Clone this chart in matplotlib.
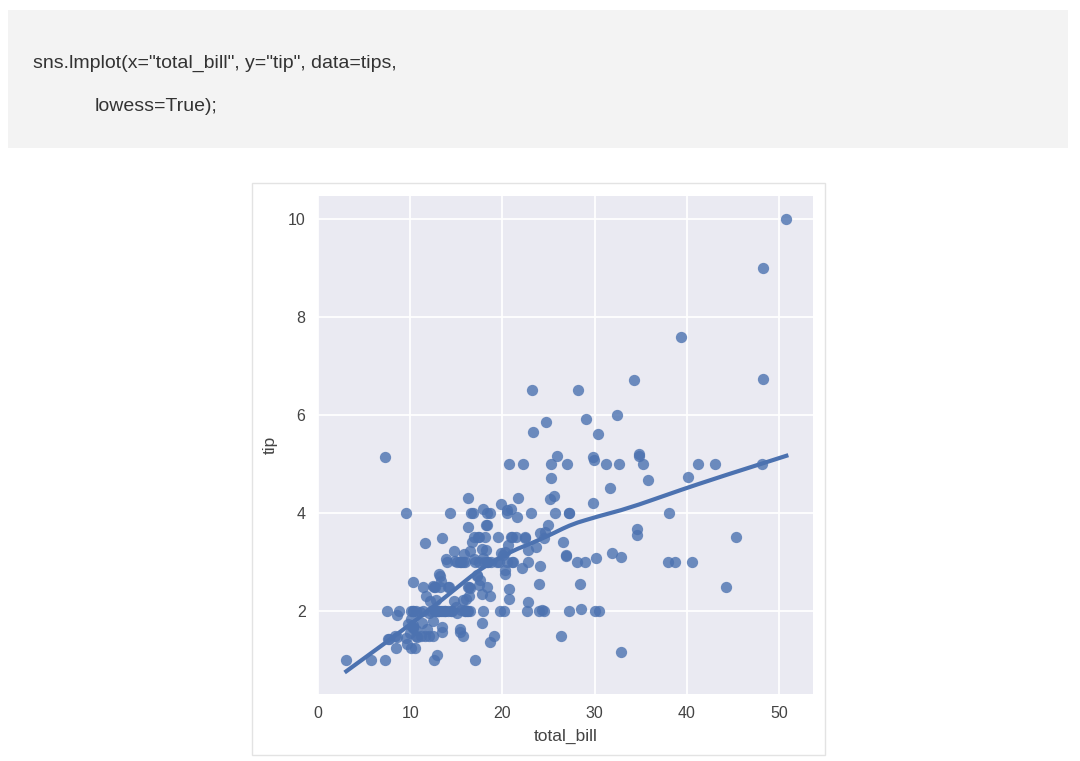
import numpy as np
import matplotlib
matplotlib.use("Agg")
import matplotlib.pyplot as plt
from matplotlib.patches import Rectangle

# tips dataset
total_bill = [16.99, 10.34, 21.01, 23.68, 24.59, 25.29, 8.77, 26.88, 15.04, 14.78,
              10.27, 35.26, 15.42, 18.43, 14.83, 21.58, 10.33, 16.29, 16.97, 20.65,
              17.92, 20.29, 15.77, 39.42, 19.82, 17.81, 13.37, 12.69, 21.70, 19.65,
              9.55, 18.35, 15.06, 20.69, 17.78, 24.06, 16.31, 16.93, 18.69, 31.27,
              16.04, 17.46, 13.94, 9.68, 30.40, 18.29, 22.23, 32.40, 28.55, 18.04,
              12.54, 10.29, 34.81, 9.94, 25.56, 19.49, 38.01, 26.41, 11.24, 48.27,
              20.29, 13.81, 11.02, 18.29, 17.59, 20.08, 16.45, 3.07, 20.23, 15.01,
              12.02, 17.07, 26.86, 25.28, 14.73, 10.51, 17.92, 27.20, 22.76, 17.29,
              19.44, 16.66, 10.07, 32.68, 15.98, 34.83, 13.03, 18.28, 24.71, 21.16,
              28.97, 22.49, 5.75, 16.32, 22.75, 40.17, 27.28, 12.03, 21.01, 12.46,
              11.35, 15.38, 44.30, 22.42, 20.92, 15.36, 20.49, 25.21, 18.24, 14.31,
              14.00, 7.25, 38.07, 23.95, 25.71, 17.31, 29.93, 10.65, 12.43, 24.08,
              11.69, 13.42, 14.26, 15.95, 12.48, 29.80, 8.52, 14.52, 11.38, 22.82,
              19.08, 20.27, 11.17, 12.26, 18.26, 8.51, 10.33, 14.15, 16.00, 13.16,
              17.47, 34.30, 41.19, 27.05, 16.43, 8.35, 18.64, 11.87, 9.78, 7.51,
              14.07, 13.13, 17.26, 24.55, 19.77, 29.85, 48.17, 25.00, 13.39, 16.49,
              21.50, 12.66, 16.21, 13.81, 17.51, 24.52, 20.76, 31.71, 10.59, 10.63,
              50.81, 15.81, 7.25, 31.85, 16.82, 32.90, 17.89, 14.48, 9.60, 34.63,
              34.65, 23.33, 45.35, 23.17, 40.55, 20.69, 20.90, 30.46, 18.15, 23.10,
              15.69, 19.81, 28.44, 15.48, 16.58, 7.56, 10.34, 43.11, 13.00, 13.51,
              18.71, 12.74, 13.00, 16.40, 20.53, 16.47, 26.59, 38.73, 24.27, 12.76,
              30.06, 25.89, 48.33, 13.27, 28.17, 12.90, 28.15, 11.59, 7.74, 30.14,
              12.16, 13.42, 8.58, 15.98, 13.42, 16.27, 10.09, 20.45, 13.28, 22.12,
              24.01, 15.69, 11.61, 10.77, 15.53, 10.07, 12.60, 32.83, 35.83, 29.03,
              27.18, 22.67, 17.82, 18.78]
tip = [1.01, 1.66, 3.50, 3.31, 3.61, 4.71, 2.00, 3.12, 1.96, 3.23,
       1.71, 5.00, 1.57, 3.00, 3.02, 3.92, 1.67, 3.71, 3.50, 3.35,
       4.08, 2.75, 2.23, 7.58, 3.18, 2.34, 2.00, 2.00, 4.30, 3.00,
       1.45, 2.50, 3.00, 2.45, 3.27, 3.60, 2.00, 3.07, 2.31, 5.00,
       2.24, 2.54, 3.06, 1.32, 5.60, 3.00, 5.00, 6.00, 2.05, 3.00,
       2.50, 2.60, 5.20, 1.56, 4.34, 3.51, 3.00, 1.50, 1.76, 6.73,
       3.21, 2.00, 1.98, 3.76, 2.64, 3.15, 2.47, 1.00, 2.01, 2.09,
       1.97, 3.00, 3.14, 5.00, 2.20, 1.25, 3.08, 4.00, 3.00, 2.71,
       3.00, 3.40, 1.83, 5.00, 2.03, 5.17, 2.00, 4.00, 5.85, 3.00,
       3.00, 3.50, 1.00, 4.30, 3.25, 4.73, 4.00, 1.50, 3.00, 1.50,
       2.50, 3.00, 2.50, 3.48, 4.08, 1.64, 4.06, 4.29, 3.76, 4.00,
       3.00, 1.00, 4.00, 2.55, 4.00, 3.50, 5.07, 1.50, 1.80, 2.92,
       2.31, 1.68, 2.50, 2.00, 2.52, 4.20, 1.48, 2.00, 2.00, 2.18,
       1.50, 2.83, 1.50, 2.00, 3.25, 1.25, 2.00, 2.00, 2.00, 2.75,
       3.50, 6.70, 5.00, 5.00, 2.30, 1.50, 1.36, 1.63, 1.73, 2.00,
       2.50, 2.00, 2.74, 2.00, 2.00, 5.14, 5.00, 3.75, 2.61, 2.00,
       3.50, 2.50, 2.00, 2.00, 3.00, 3.48, 2.24, 4.50, 1.61, 2.00,
       10.00, 3.16, 5.15, 3.18, 4.00, 3.11, 2.00, 2.00, 4.00, 3.55,
       3.68, 5.65, 3.50, 6.50, 3.00, 5.00, 3.50, 2.00, 3.50, 4.00,
       1.50, 4.19, 2.56, 2.02, 4.00, 1.44, 2.00, 5.00, 2.00, 2.00,
       4.00, 2.01, 2.00, 2.50, 4.00, 3.23, 3.41, 3.00, 2.03, 2.23,
       2.00, 5.16, 9.00, 2.50, 6.50, 1.10, 3.00, 1.50, 1.44, 3.09,
       2.20, 3.48, 1.92, 3.00, 1.58, 2.50, 2.00, 3.00, 2.72, 2.88,
       2.00, 3.00, 3.39, 1.47, 3.00, 1.25, 1.00, 1.17, 4.67, 5.92,
       2.00, 2.00, 1.75, 3.00]

x_ticks = [0, 10, 20, 30, 40, 50]
y_ticks = [2, 4, 6, 8, 10]
code_lines = ['sns.lmplot(x="total_bill", y="tip", data=tips,', 'lowess=True);']


def lowess(x, y, frac=2.0 / 3.0, it=3):
    order = np.argsort(x, kind="mergesort")
    x = np.asarray(x, float)[order]
    y = np.asarray(y, float)[order]
    n = len(x)
    k = int(frac * n + 1e-10)
    fit = np.zeros(n)
    rob = np.ones(n)
    for _ in range(it + 1):
        for i in range(n):
            d = np.abs(x - x[i])
            h = np.sort(d)[k - 1]
            w = np.clip(d / h, 0, 1)
            w = (1 - w ** 3) ** 3 * rob
            sw = w.sum()
            xm = (w * x).sum() / sw
            ym = (w * y).sum() / sw
            sxx = (w * (x - xm) ** 2).sum()
            b = (w * (x - xm) * (y - ym)).sum() / sxx if sxx > 0 else 0.0
            fit[i] = ym + b * (x[i] - xm)
        res = y - fit
        s = np.median(np.abs(res))
        u = np.clip(res / (6 * s), -1, 1)
        rob = (1 - u ** 2) ** 2
    return x, fit


plt.rcParams['font.family'] = ['Liberation Sans', 'DejaVu Sans']

fig = plt.figure(figsize=(10.8, 7.61), dpi=100)
fig.patch.set_facecolor("white")

# code block at the top
fig.patches.append(Rectangle((0.0074, 0.8055), 0.9815, 0.1813, transform=fig.transFigure,
                             facecolor="#f3f3f3", edgecolor="none", zorder=-2))
fig.text(33 / 1080, 1 - 68 / 761, code_lines[0], fontsize=14, color="#333333", va="baseline")
fig.text(95 / 1080, 1 - 111 / 761, code_lines[1], fontsize=14, color="#333333", va="baseline")

# frame round the chart
fig.patches.append(Rectangle((252 / 1080, 1 - 755 / 761), 573 / 1080, 572 / 761,
                             transform=fig.transFigure, facecolor="white",
                             edgecolor="#e3e3e3", linewidth=1, zorder=-2))

ax = fig.add_axes([318 / 1080, 1 - 694 / 761, 495 / 1080, 498 / 761])
ax.set_zorder(2)
ax.set_facecolor("#eaeaf2")
for sp in ax.spines.values():
    sp.set_visible(False)
ax.grid(True, color="white", linewidth=1.3)
ax.set_axisbelow(True)

col = "#4c72b0"
ax.scatter(total_bill, tip, s=66, color=col, alpha=0.8, linewidths=0, zorder=2)
lx, ly = lowess(total_bill, tip)
ax.plot(lx, ly, color=col, linewidth=3, zorder=3)

ax.set_xlim(0, 53.7)
ax.set_ylim(0.31, 10.46)
ax.set_xticks(x_ticks)
ax.set_yticks(y_ticks)
ax.tick_params(length=0, labelsize=11.5, labelcolor="#444444", pad=9)
ax.set_xlabel("total_bill", fontsize=12.5, color="#444444", labelpad=5)
ax.set_ylabel("tip", fontsize=12.5, color="#444444", labelpad=7)

fig.savefig("out.png", dpi=100)
